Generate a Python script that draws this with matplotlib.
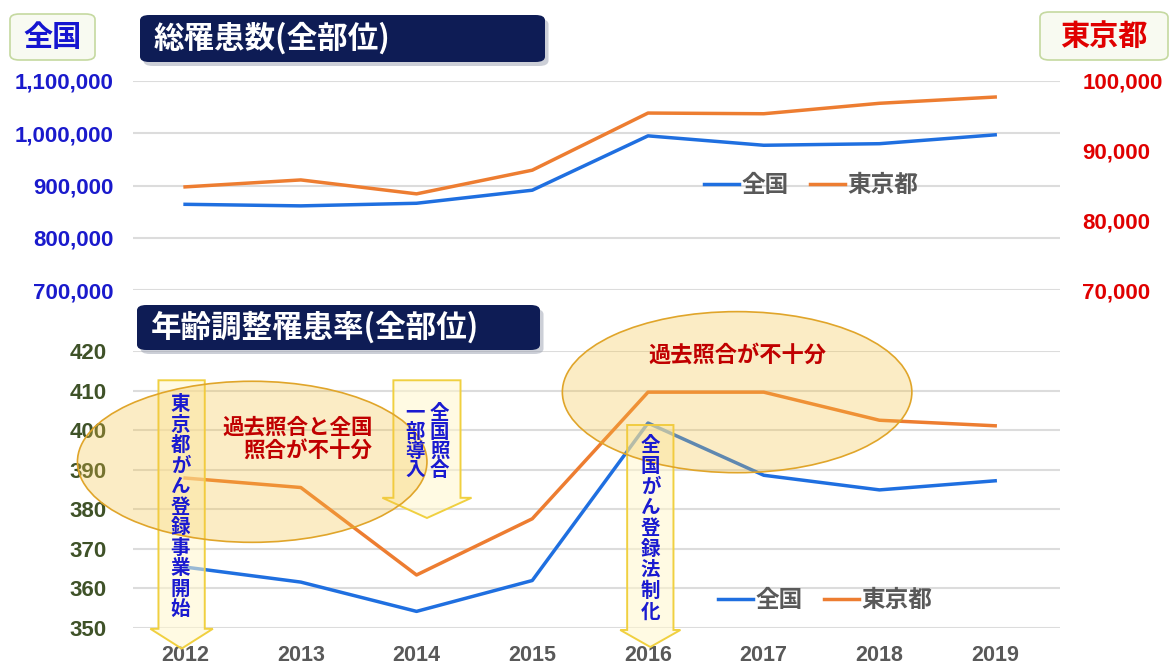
import numpy as np
import matplotlib.pyplot as plt
from matplotlib.patches import Ellipse, Polygon, FancyBboxPatch

plt.rcParams['font.family'] = ['Noto Sans CJK JP', 'DejaVu Sans']

# データ
years = ['2012', '2013', '2014', '2015', '2016', '2017', '2018', '2019']
total_japan = [864000, 861000, 866000, 891000, 995000, 977000, 980000, 997000]
total_tokyo = [84800, 85800, 83800, 87200, 95400, 95300, 96800, 97700]
rate_japan = [365.4, 361.6, 354.2, 362.0, 401.8, 388.6, 384.9, 387.2]
rate_tokyo = [387.9, 385.5, 363.4, 377.6, 409.6, 409.6, 402.5, 401.1]

left_ticks = [700000, 800000, 900000, 1000000, 1100000]
right_ticks = [70000, 80000, 90000, 100000]
rate_ticks = [350, 360, 370, 380, 390, 400, 410, 420]

BLUE = '#1f6fe0'
ORANGE = '#ed7d31'
GRID = '#dcdcdc'
NAVY = '#0e1c55'
NUM_FONT = ['Liberation Sans', 'DejaVu Sans']
NUM_SIZE = 16

W, H = 1170, 666
x = np.arange(len(years))

fig = plt.figure(figsize=(W / 100, H / 100), dpi=100)
fig.patch.set_facecolor('white')


def fx(px):
    return px / W


def fy(py):
    return 1 - py / H


ax1 = fig.add_axes([fx(133), fy(290), fx(1060) - fx(133), fy(81) - fy(290)])
ax1r = ax1.twinx()
ax2 = fig.add_axes([fx(133), fy(628), fx(1060) - fx(133), fy(351) - fy(628)])

for a in (ax1, ax1r, ax2):
    for s in a.spines.values():
        s.set_visible(False)
    a.tick_params(length=0)
    a.set_xlim(-0.45, 7.56)

# 総罹患数
ax1.set_ylim(700000, 1100000)
ax1.set_yticks(left_ticks)
ax1.set_yticklabels([f'{v:,}' for v in left_ticks], color='#1a1acc',
                    fontsize=NUM_SIZE, fontweight='bold', family=NUM_FONT)
ax1.tick_params(axis='y', pad=14)
ax1.set_xticks([])
ax1.grid(axis='y', color=GRID, lw=1.5)
ax1.set_axisbelow(True)

ax1r.set_ylim(70000, 100000)
ax1r.set_yticks(right_ticks)
ax1r.set_yticklabels([f'{v:,}' for v in right_ticks], color='#e00000',
                     fontsize=NUM_SIZE, fontweight='bold', family=NUM_FONT)
ax1r.tick_params(axis='y', pad=16)

l1, = ax1.plot(x, total_japan, color=BLUE, lw=2.5, label='全国')
l2, = ax1r.plot(x, total_tokyo, color=ORANGE, lw=2.5, label='東京都')

legend_kw = dict(loc='center', ncol=2, frameon=False, handlelength=1.5,
                 handletextpad=0.1, columnspacing=0.9, labelcolor='#595959',
                 prop=dict(family='Noto Sans CJK JP', weight='bold', size=17))
fig.legend(handles=[l1, l2], bbox_to_anchor=(fx(811), fy(185)), **legend_kw)

# 年齢調整罹患率
ax2.set_ylim(350, 420)
ax2.set_yticks(rate_ticks)
ax2.set_yticklabels([str(v) for v in rate_ticks], color='#3f5228',
                    fontsize=NUM_SIZE, fontweight='bold', family=NUM_FONT)
ax2.tick_params(axis='y', pad=19)
ax2.set_xticks(x)
ax2.set_xticklabels(years, color='#595959', fontsize=15.5, fontweight='bold',
                    family=NUM_FONT)
ax2.tick_params(axis='x', pad=12)
ax2.grid(axis='y', color=GRID, lw=1.5)
ax2.set_axisbelow(True)

m1, = ax2.plot(x, rate_japan, color=BLUE, lw=2.5, label='全国')
m2, = ax2.plot(x, rate_tokyo, color=ORANGE, lw=2.5, label='東京都')

fig.legend(handles=[m1, m2], bbox_to_anchor=(fx(825), fy(600)), **legend_kw)


def down_arrow(xc, top, neck, tip, sw, hw):
    pts = [(xc - sw, top), (xc + sw, top), (xc + sw, neck), (xc + hw, neck),
           (xc, tip), (xc - hw, neck), (xc - sw, neck)]
    ax2.add_patch(Polygon(pts, closed=True, facecolor='#fff7cc', alpha=0.55,
                          edgecolor='none', zorder=3, clip_on=False))
    ax2.add_patch(Polygon(pts, closed=True, facecolor='none',
                          edgecolor='#f0d040', lw=1.4, zorder=3.1, clip_on=False))


def vtext(xc, y0, step, s, color='#1a1ad0', size=14):
    for i, ch in enumerate(s):
        ax2.text(xc, y0 - i * step, ch, ha='center', va='center', color=color,
                 fontsize=size, fontweight='bold', zorder=6, clip_on=False)


# 矢印
down_arrow(-0.03, 412.6, 349.8, 344.8, 0.2, 0.27)
down_arrow(2.09, 412.6, 382.9, 377.8, 0.29, 0.385)
down_arrow(4.02, 401.3, 349.5, 345.2, 0.2, 0.26)

# 楕円
for cx, cy in [(0.58, 392.0), (4.77, 409.6)]:
    ax2.add_patch(Ellipse((cx, cy), 3.02, 40.7, facecolor='#f5c242',
                          alpha=0.3, edgecolor='none', zorder=4, clip_on=False))
    ax2.add_patch(Ellipse((cx, cy), 3.02, 40.7, facecolor='none',
                          edgecolor='#e0a52a', lw=1.2, zorder=4.1, clip_on=False))

vtext(-0.04, 406.4, 5.18, '東京都がん登録事業開始')
vtext(2.2, 404.3, 4.8, '全国照合')
vtext(1.99, 404.3, 4.8, '一部導入')
vtext(4.02, 396.2, 5.28, '全国がん登録法制化')

ax2.text(1.62, 397.8, '過去照合と全国\n照合が不十分', ha='right', va='center',
         color='#c00000', fontsize=15.5, fontweight='bold', linespacing=1.15,
         zorder=6)
ax2.text(4.77, 419.0, '過去照合が不十分', ha='center', va='center',
         color='#c00000', fontsize=16, fontweight='bold', zorder=6,
         clip_on=False)


# タイトル帯とラベル
def title_box(x0, y0, x1, y1, text):
    fig.patches.append(FancyBboxPatch(
        (fx(x0) + 0.003, fy(y1) - 0.006), fx(x1) - fx(x0), fy(y0) - fy(y1),
        boxstyle='round,pad=0,rounding_size=0.008', transform=fig.transFigure,
        facecolor='#9aa0b0', edgecolor='none', alpha=0.5, figure=fig))
    fig.patches.append(FancyBboxPatch(
        (fx(x0), fy(y1)), fx(x1) - fx(x0), fy(y0) - fy(y1),
        boxstyle='round,pad=0,rounding_size=0.008', transform=fig.transFigure,
        facecolor=NAVY, edgecolor='none', figure=fig))
    fig.text(fx(x0 + 14), fy((y0 + y1) / 2), text, ha='left', va='center',
             color='white', fontsize=22, fontweight='bold')


def label_box(x0, y0, x1, y1, text, color):
    fig.patches.append(FancyBboxPatch(
        (fx(x0), fy(y1)), fx(x1) - fx(x0), fy(y0) - fy(y1),
        boxstyle='round,pad=0,rounding_size=0.008', transform=fig.transFigure,
        facecolor='#f8faf1', edgecolor='#c5d9a0', lw=1.2, figure=fig))
    fig.text(fx((x0 + x1) / 2), fy((y0 + y1) / 2), text, ha='center',
             va='center', color=color, fontsize=21, fontweight='bold')


title_box(140, 15, 545, 62, '総罹患数(全部位)')
title_box(137, 305, 540, 350, '年齢調整罹患率(全部位)')
label_box(10, 14, 95, 60, '全国', '#1515d0')
label_box(1040, 12, 1168, 60, '東京都', '#e00000')

fig.savefig('out.png', dpi=100)
